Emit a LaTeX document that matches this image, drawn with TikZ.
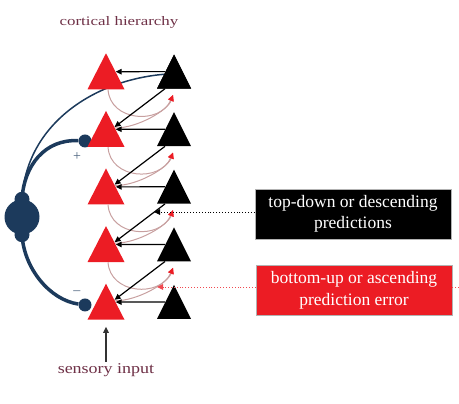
\documentclass[tikz,border=0pt]{standalone}
\usepackage{graphicx}
\usepackage{fontspec}
\setmainfont{Liberation Serif}
\usetikzlibrary{shapes.geometric,arrows.meta}

\definecolor{trired}{RGB}{236,28,36}
\definecolor{navy}{RGB}{28,58,92}
\definecolor{labelred}{RGB}{110,48,70}
\definecolor{errpink}{RGB}{200,160,160}

\tikzset{
  tri/.style={isosceles triangle, isosceles triangle stretches,
    shape border rotate=90, inner sep=0pt},
  redtri/.style={tri, fill=trired, minimum width=37pt, minimum height=36pt},
  blacktri/.style={tri, fill=black, minimum width=34pt, minimum height=34pt},
  knob/.style={circle, fill=navy, inner sep=0pt, minimum size=13pt},
  dendrite/.style={navy, line width=3.5pt},
  predarrow/.style={black, line width=1.2pt, -{Triangle[length=6pt,width=5.5pt]}},
  errarrow/.style={errpink, line width=1pt,
    -{Triangle[length=6pt,width=5.5pt,color=trired]}},
  labeltext/.style={text=labelred, inner sep=1pt},
  legendbox/.style={draw=gray!60, text=white, align=center, inner sep=0pt,
    minimum width=196pt, minimum height=50pt,
    font=\fontsize{17.5}{21.5}\selectfont},
}

\begin{document}
\begin{tikzpicture}[x=1pt, y=1pt]
  \useasboundingbox (0,0) rectangle (459,404);

  % the five levels (nodes sit on the centroid, 6pt below mid height)
  \foreach \i in {1,...,5} {
    \pgfmathsetmacro\y{326-57.6*(\i-1)}
    \coordinate (rc\i) at (106,\y);
    \coordinate (bc\i) at (174,\y);
  }

  % neuron on the left
  \node[circle, fill=navy, minimum size=35pt, inner sep=0pt] (soma) at (22,187) {};
  \fill[navy] (soma.north) circle (7.5) (soma.south) circle (7.5);
  \node[knob] (kp) at (85,263) {};
  \node[knob] (km) at (85,99) {};
  \node[blacktri] (b1) at (bc1) {};
  \draw[navy, line width=1.5pt] (soma.north) .. controls +(4,75) and +(-70,-6) .. (b1.160);
  \draw[dendrite] (soma.north) .. controls +(2,34) and +(-40,2) .. (kp);
  \draw[dendrite] (soma.south) .. controls +(2,-34) and +(-35,5) .. (km);
  \node[text=navy!80, font=\fontsize{14}{14}\selectfont] (plus) at (77,247) {+};
  \node[text=navy!80, font=\fontsize{14}{14}\selectfont] (minus) at (77,111) {–};

  \foreach \i in {1,...,5} {
    \node[redtri] (r\i) at (rc\i) {};
    \node[blacktri] (b\i) at (bc\i) {};
  }
  \foreach \i in {1,...,4} {
    \pgfmathsetmacro\y{332-57.6*(\i-1)-23}
    \coordinate (e\i) at (173,\y);
  }

  % ascending prediction errors
  \foreach \i/\j in {1/2,2/3,3/4,4/5} {
    \draw[errarrow] (r\i.-80) .. controls +(2,-32) and +(-13,-30) .. (e\i);
    \draw[errarrow] (r\j.40) .. controls +(23,0) and +(-5,-15) .. (e\i);
  }

  % descending predictions
  \foreach \i in {1,...,5}
    \draw[predarrow] (b\i.144) -- (r\i.33);
  \foreach \i/\j in {1/2,2/3,3/4,4/5}
    \draw[predarrow] (b\i.-130) -- (r\j.45);

  % legend
  \node[legendbox, fill=black] (pred) at (353,190) {top-down or descending\\predictions};
  \node[legendbox, fill=trired] (err) at (354,113.5) {bottom-up or ascending\\prediction error};
  \coordinate (d1) at (154,192);
  \coordinate (d2) at (157,117);
  \coordinate (d2r) at (459,117);
  \draw[dotted, line width=0.9pt, -{Triangle[length=6pt,width=5.5pt]}] (d1 -| pred.west) -- (d1);
  \draw[dotted, line width=0.9pt, trired!80, -{Triangle[length=6pt,width=5.5pt]}] (d2 -| err.west) -- (d2);
  \draw[dotted, line width=0.9pt, trired!80] (d2r) -- (d2 -| err.east);

  % labels
  \node[labeltext, font=\fontsize{13}{15}\selectfont] (title) at (119,382)
    {\scalebox{1.3}[1]{cortical hierarchy}};
  \node[labeltext, font=\fontsize{15}{17}\selectfont] (input) at (106,34)
    {\scalebox{1.2}[1]{sensory input}};
  \draw[black!80, line width=1.3pt, shorten >=7pt, -{Triangle[length=6pt,width=5.5pt]}]
    (input) -- (r5);
\end{tikzpicture}
\end{document}
